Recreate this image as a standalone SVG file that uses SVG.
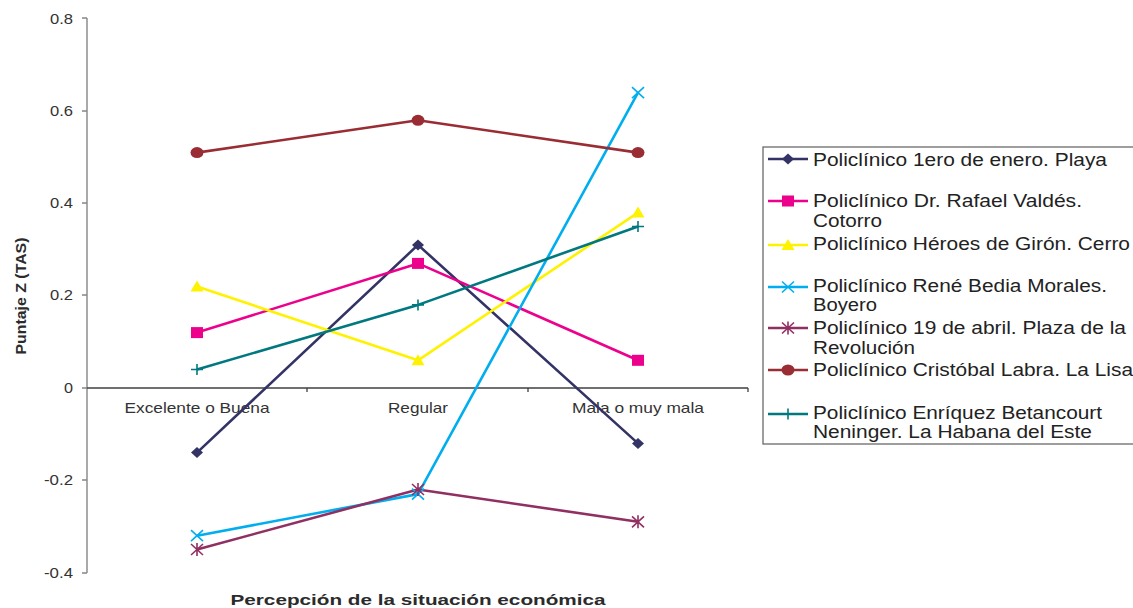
<svg xmlns="http://www.w3.org/2000/svg" width="1133" height="608" viewBox="0 0 1133 608">
<style>
text{font-family:"Liberation Sans",Arial,sans-serif;fill:#333333}
.tick{font-size:14.5px;text-anchor:end}
.cat{font-size:14.5px;text-anchor:middle}
.leg{font-size:17.5px;fill:#222222}
.title{font-size:15.5px;font-weight:bold;fill:#2b2b2b}
.s{fill:none;stroke-width:2.6;stroke-linejoin:round}
.ax{stroke:#868686;stroke-width:1.4;fill:none}
.ax0{stroke:#404040;stroke-width:1.3;fill:none}
</style>
<defs>
<polygon id="mDia" points="0,-5.5 6,0 0,5.5 -6,0" fill="#333366"/>
<rect id="mSq" x="-6" y="-5.5" width="12" height="11" fill="#ec008c"/>
<polygon id="mTri" points="0,-6 6.5,5 -6.5,5" fill="#fff200"/>
<path id="mX" d="M-6,-5.5L6,5.5M-6,5.5L6,-5.5" stroke="#00aeef" stroke-width="1.6" fill="none"/>
<path id="mStar" d="M-6,-5.5L6,5.5M-6,5.5L6,-5.5M0,-6.5V6.5" stroke="#902f61" stroke-width="1.6" fill="none"/>
<ellipse id="mCir" rx="6.5" ry="5.5" fill="#992d33"/>
<path id="mPlus" d="M-6,0H6M0,-5.5V5.5" stroke="#00787f" stroke-width="1.6" fill="none"/>
</defs>
<rect width="1133" height="608" fill="#ffffff"/>

<g id="axes">
<path class="ax" d="M87,18V573M82,18H87M82,111H87M82,203H87M82,295H87M82,388H87M82,480H87M82,573H87"/>
<path class="ax0" d="M87,388H748M307,388V392M528,388V392M748,388V392"/>
<text class="tick" x="73" y="23.5" textLength="23" lengthAdjust="spacingAndGlyphs">0.8</text>
<text class="tick" x="73" y="116" textLength="23" lengthAdjust="spacingAndGlyphs">0.6</text>
<text class="tick" x="73" y="208" textLength="23" lengthAdjust="spacingAndGlyphs">0.4</text>
<text class="tick" x="73" y="300" textLength="23" lengthAdjust="spacingAndGlyphs">0.2</text>
<text class="tick" x="73" y="393" textLength="9" lengthAdjust="spacingAndGlyphs">0</text>
<text class="tick" x="73" y="485" textLength="29" lengthAdjust="spacingAndGlyphs">-0.2</text>
<text class="tick" x="73" y="578" textLength="29" lengthAdjust="spacingAndGlyphs">-0.4</text>
<text class="cat" x="197" y="413" textLength="145" lengthAdjust="spacingAndGlyphs">Excelente o Buena</text>
<text class="cat" x="418" y="413" textLength="60" lengthAdjust="spacingAndGlyphs">Regular</text>
<text class="cat" x="638" y="413" textLength="132" lengthAdjust="spacingAndGlyphs">Mala o muy mala</text>
<text class="title" x="418" y="605" text-anchor="middle" textLength="375" lengthAdjust="spacingAndGlyphs">Percepción de la situación económica</text>
<text class="title" transform="translate(26,296) rotate(-90)" text-anchor="middle" textLength="117" lengthAdjust="spacingAndGlyphs">Puntaje Z (TAS)</text>
</g>

<g id="connectors">
<polyline id="s1" class="s" stroke="#333366" points="197,452.6 418,244.9 638,443.4"/>
<polyline id="s2" class="s" stroke="#ec008c" points="197,332.6 418,263.4 638,360.3"/>
<polyline id="s3" class="s" stroke="#fff200" points="197,286.5 418,360.3 638,212.6"/>
<polyline id="s4" class="s" stroke="#00aeef" points="197,535.7 418,494.1 638,92.6"/>
<polyline id="s5" class="s" stroke="#902f61" points="197,549.5 418,489.5 638,521.8"/>
<polyline id="s6" class="s" stroke="#992d33" points="197,152.6 418,120.3 638,152.6"/>
<polyline id="s7" class="s" stroke="#00787f" points="197,369.5 418,304.9 638,226.5"/>
</g>

<g id="markers">
<use href="#mDia" x="197" y="452.6"/><use href="#mDia" x="418" y="244.9"/><use href="#mDia" x="638" y="443.4"/>
<use href="#mSq" x="197" y="332.6"/><use href="#mSq" x="418" y="263.4"/><use href="#mSq" x="638" y="360.3"/>
<use href="#mTri" x="197" y="286.5"/><use href="#mTri" x="418" y="360.3"/><use href="#mTri" x="638" y="212.6"/>
<use href="#mX" x="197" y="535.7"/><use href="#mX" x="418" y="494.1"/><use href="#mX" x="638" y="92.6"/>
<use href="#mStar" x="197" y="549.5"/><use href="#mStar" x="418" y="489.5"/><use href="#mStar" x="638" y="521.8"/>
<use href="#mCir" x="197" y="152.6"/><use href="#mCir" x="418" y="120.3"/><use href="#mCir" x="638" y="152.6"/>
<use href="#mPlus" x="197" y="369.5"/><use href="#mPlus" x="418" y="304.9"/><use href="#mPlus" x="638" y="226.5"/>
</g>

<g id="legend">
<rect x="763" y="147" width="380" height="297" fill="#ffffff" stroke="#6a6a6a" stroke-width="1.3"/>
<g id="leg1"><path class="s" stroke="#333366" d="M768,159H808"/><use href="#mDia" x="788" y="159"/>
<text class="leg" x="813" y="165.5" textLength="294" lengthAdjust="spacingAndGlyphs">Policlínico 1ero de enero. Playa</text></g>
<g id="leg2"><path class="s" stroke="#ec008c" d="M768,201H808"/><use href="#mSq" x="788" y="201"/>
<text class="leg" x="813" y="207" textLength="269" lengthAdjust="spacingAndGlyphs">Policlínico Dr. Rafael Valdés.</text>
<text class="leg" x="813" y="227" textLength="69" lengthAdjust="spacingAndGlyphs">Cotorro</text></g>
<g id="leg3"><path class="s" stroke="#fff200" d="M768,245H808"/><use href="#mTri" x="788" y="245"/>
<text class="leg" x="813" y="250" textLength="317" lengthAdjust="spacingAndGlyphs">Policlínico Héroes de Girón. Cerro</text></g>
<g id="leg4"><path class="s" stroke="#00aeef" d="M768,287H808"/><use href="#mX" x="788" y="287"/>
<text class="leg" x="813" y="292" textLength="294" lengthAdjust="spacingAndGlyphs">Policlínico René Bedia Morales.</text>
<text class="leg" x="813" y="311" textLength="64" lengthAdjust="spacingAndGlyphs">Boyero</text></g>
<g id="leg5"><path class="s" stroke="#902f61" d="M768,328H808"/><use href="#mStar" x="788" y="328"/>
<text class="leg" x="813" y="334" textLength="313" lengthAdjust="spacingAndGlyphs">Policlínico 19 de abril. Plaza de la</text>
<text class="leg" x="813" y="353.5" textLength="102" lengthAdjust="spacingAndGlyphs">Revolución</text></g>
<g id="leg6"><path class="s" stroke="#992d33" d="M768,370H808"/><use href="#mCir" x="788" y="370"/>
<text class="leg" x="813" y="376" textLength="320" lengthAdjust="spacingAndGlyphs">Policlínico Cristóbal Labra. La Lisa</text></g>
<g id="leg7"><path class="s" stroke="#00787f" d="M768,414H808"/><use href="#mPlus" x="788" y="414"/>
<text class="leg" x="813" y="419" textLength="289" lengthAdjust="spacingAndGlyphs">Policlínico Enríquez Betancourt</text>
<text class="leg" x="813" y="438" textLength="279" lengthAdjust="spacingAndGlyphs">Neninger. La Habana del Este</text></g>
</g>
</svg>
